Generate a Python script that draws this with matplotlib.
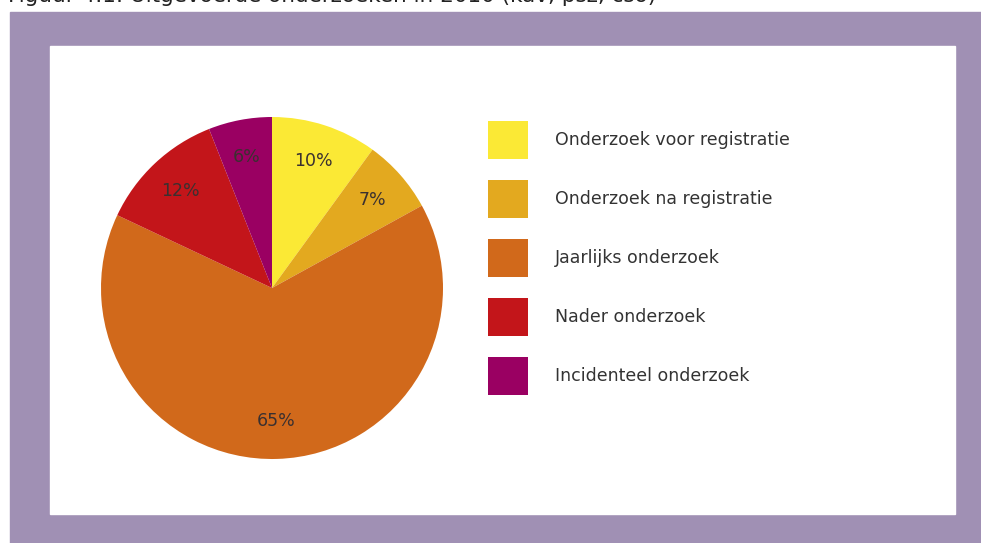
import matplotlib.pyplot as plt
from matplotlib.patches import Rectangle, Patch

labels = ["Onderzoek voor registratie", "Onderzoek na registratie",
          "Jaarlijks onderzoek", "Nader onderzoek", "Incidenteel onderzoek"]
values = [10, 7, 65, 12, 6]
colors = ["#FBE935", "#E3A91F", "#D1691B", "#C3151A", "#9A0062"]
title = "Figuur 4.1: Uitgevoerde onderzoeken in 2010 (kav, psz, cso)"

W, H = 981, 543
fig = plt.figure(figsize=(W / 100, H / 100), dpi=100)
fig.patch.set_facecolor("white")

# purple frame and white panel (pixel coords converted to figure fraction)
fig.patches.append(Rectangle((10 / W, 0), (W - 10) / W, (H - 12) / H,
                             transform=fig.transFigure, color="#A090B4", zorder=0))
fig.patches.append(Rectangle((50 / W, 1 - 514 / H), 905 / W, 468 / H,
                             transform=fig.transFigure, color="white", zorder=1))

# title, cut off at top edge as in the source
fig.text(8 / W, 1 - 2 / H, title, fontsize=15.5, color="#222222", va="baseline")

# pie: centre (272, 288), radius 171 px
r = 171
ax = fig.add_axes([(272 - r) / W, 1 - (288 + r) / H, 2 * r / W, 2 * r / H])
ax.set_zorder(2)
ax.pie(values, colors=colors, startangle=90, counterclock=False,
       autopct="%d%%", pctdistance=0.78, radius=1,
       wedgeprops=dict(linewidth=0),
       textprops=dict(fontsize=12.5, color="#3a3030"))
ax.set_xlim(-1, 1)
ax.set_ylim(-1, 1)
ax.set_aspect("equal")
ax.axis("off")

handles = [Patch(facecolor=c, edgecolor="none") for c in colors]
fs = 12.5
px = fs * 100 / 72
hh = (38 / px - 0.245) / 0.65
leg = fig.legend(handles, labels, loc="upper left",
                 bbox_to_anchor=(488 / W, 1 - 121 / H), frameon=False,
                 fontsize=fs, labelcolor="#333333", borderpad=0, borderaxespad=0,
                 handlelength=40 / px, handleheight=hh,
                 labelspacing=21 / px, handletextpad=27 / px)
leg.set_zorder(3)

fig.savefig("out.png", dpi=100)
